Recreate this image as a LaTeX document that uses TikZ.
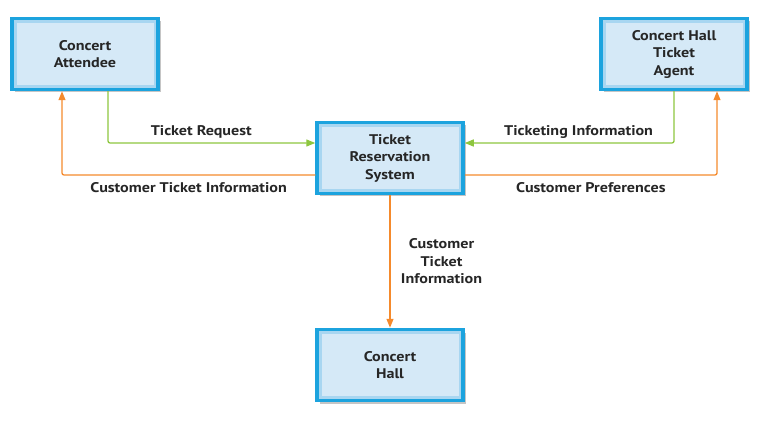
\documentclass[tikz,border=0pt]{standalone}
\usepackage{fontspec}
\setmainfont{PT Sans}[FakeStretch=1.15]
\usetikzlibrary{arrows.meta,shadows}
\definecolor{boxblue}{HTML}{1CA3DE}
\definecolor{boxfill}{HTML}{D5E9F7}
\definecolor{boxinner}{HTML}{A8D6F1}
\definecolor{flowgreen}{HTML}{8DC63F}
\definecolor{floworange}{HTML}{F58A2C}
\tikzset{
  entity/.style={draw=boxblue, line width=3.5pt, fill=boxfill,
    minimum width=146pt, minimum height=71pt, align=center,
    font=\bfseries\fontsize{14}{17.5}\selectfont, text=black!85,
    drop shadow={shadow xshift=3pt, shadow yshift=-3pt, fill=black!45},
    path picture={\draw[boxinner, line width=9pt]
      (path picture bounding box.south west) rectangle (path picture bounding box.north east);}},
  flow/.style={line width=1.3pt, rounded corners=2pt, -{Triangle[length=9pt,width=7pt]}},
  greenflow/.style={flow, flowgreen},
  orangeflow/.style={flow, floworange},
  flowlabel/.style={font=\bfseries\fontsize{14}{17.5}\selectfont, text=black!85, align=center}
}
\begin{document}
\begin{tikzpicture}[x=1pt, y=1pt]
    \useasboundingbox (0,0) rectangle (776,-430);
    \node[entity] (att) at (85,-54) {Concert\\Attendee};
    \node[entity] (agt) at (674,-54) {Concert Hall\\Ticket\\Agent};
    \node[entity] (trs) at (390,-158) {Ticket\\Reservation\\System};
    \node[entity] (hall) at (390,-365) {Concert\\Hall};
    % left side
    \draw[greenflow] ([xshift=23pt]att.south) |- ([yshift=15pt]trs.west)
        node[flowlabel, pos=0.725, above=1pt] (lreq) {Ticket Request};
    \draw[orangeflow] ([yshift=-17pt]trs.west) -| ([xshift=-23pt]att.south)
        node[flowlabel, pos=0.25, below=4pt] (linfo) {Customer Ticket Information};
    % right side
    \draw[greenflow] (agt.south) |- ([yshift=15pt]trs.east)
        node[flowlabel, pos=0.728, above=1pt] (rinfo) {Ticketing Information};
    \draw[orangeflow] ([yshift=-17pt]trs.east) -| ([xshift=43pt]agt.south)
        node[flowlabel, pos=0.25, below=4pt] (rpref) {Customer Preferences};
    % down to the hall
    \draw[orangeflow] (trs) -- (hall)
        node[flowlabel, midway, right=7pt] (dinfo) {Customer\\Ticket\\Information};
\end{tikzpicture}
\end{document}
